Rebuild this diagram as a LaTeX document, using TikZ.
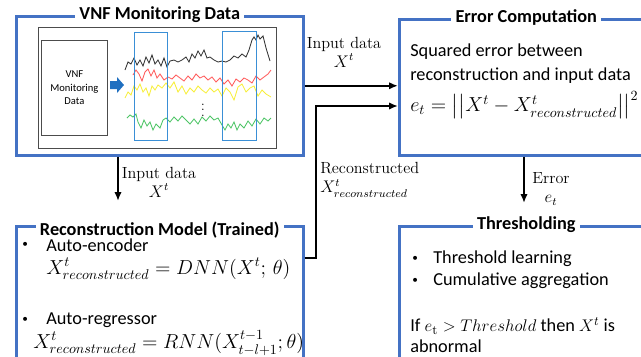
\documentclass[tikz,border=0pt]{standalone}
\usepackage{amsmath}
\usepackage{fontspec}
\setsansfont{Carlito}
\usepackage{tikz}
\usepackage{xcolor}
\usetikzlibrary{arrows.meta}

\definecolor{panelblue}{HTML}{4472C4}
\definecolor{winblue}{HTML}{3A8FD6}
\definecolor{arrowblue}{HTML}{1F6FC0}
\definecolor{sigred}{HTML}{FF5A5A}
\definecolor{sigyellow}{HTML}{F7EE3A}
\definecolor{siggreen}{HTML}{4CC465}

\newcommand{\smallbullet}{{\fontsize{8}{8}\selectfont\textbullet}}

\tikzset{
  panel/.style={draw=panelblue, line width=1.8pt, anchor=north west, inner sep=0pt},
  paneltitle/.style={fill=white, inner sep=3pt, font=\sffamily\bfseries\fontsize{13}{15}\selectfont},
  body/.style={anchor=west, inner sep=0pt, font=\sffamily\fontsize{13}{16}\selectfont},
  formula/.style={anchor=west, inner sep=0pt, font=\fontsize{13.8}{16}\selectfont},
  lab/.style={inner sep=0pt, font=\rmfamily\fontsize{11.5}{13.5}\selectfont},
  link/.style={line width=1.3pt, -{Latex[length=2.2mm,width=1.8mm]}},
  signal/.style={line width=0.6pt},
}

\begin{document}
\begin{tikzpicture}[x=0.25mm,y=-0.25mm]
\clip (0,0) rectangle (641,356);

% the four panels
\node[panel, minimum width=71.75mm, minimum height=34.75mm] (vnf) at (15,15) {};
\node[panel, minimum width=65.5mm, minimum height=34mm] (err) at (398,18) {};
\node[panel, minimum width=71.75mm, minimum height=38.75mm] (rec) at (15,225) {};
\node[panel, minimum width=65.5mm, minimum height=38.75mm] (thr) at (398,225) {};

\node[paneltitle] (vnftitle) at (vnf.north) {VNF Monitoring Data};
\node[paneltitle] (errtitle) at ([xshift=-1mm]err.north) {Error Computation};
\node[paneltitle] (rectitle) at ([yshift=-1.2mm]rec.north) {Reconstruction Model (Trained)};
\node[paneltitle] (thrtitle) at ([xshift=-1mm]thr.north) {Thresholding};

% monitoring data sketch
\draw[gray!60!black, line width=0.5pt] (38,27) rectangle (276,148);
\node[draw=gray!60!black, line width=0.5pt, anchor=north west, minimum width=16.5mm, minimum height=23.75mm,
  align=center, font=\sffamily\fontsize{7.5}{9.5}\selectfont] (src) at (41,40) {VNF\\Monitoring\\Data};
\fill[arrowblue] (110,81) -- (117,81) -- (117,77) -- (124,85) -- (117,93) -- (117,89) -- (110,89) -- cycle;

\draw[signal, black!80] plot coordinates {(125,70) (128,62) (131,64) (134,58) (137,65) (140,60) (143,66) (146,57)
  (149,63) (152,55) (155,64) (158,60) (161,66) (164,58) (167,67) (170,61) (174,60) (178,62) (182,60) (186,57)
  (189,62) (192,54) (195,58) (198,51) (201,56) (204,50) (207,58) (210,57) (214,60) (218,62) (222,61) (226,62)
  (230,60) (234,56) (238,58) (242,54) (246,57) (249,50) (252,40) (254,37) (256,40) (258,35) (260,39) (263,36)
  (266,48) (270,61)};
\draw[signal, sigred] plot coordinates {(133,75) (136,70) (139,74) (142,81) (145,72) (148,69) (151,76) (154,70)
  (157,78) (160,74) (164,80) (168,77) (172,79) (176,75) (180,78) (184,81) (188,76) (192,80) (196,74) (200,78)
  (204,76) (208,80) (212,77) (216,82) (220,78) (224,84) (228,80) (232,86) (236,79) (240,82) (244,78) (248,80)
  (252,83) (256,76) (260,80) (264,77) (268,74) (271,70)};
\draw[signal, sigyellow] plot coordinates {(125,98) (128,92) (131,95) (134,86) (137,90) (140,84) (143,92) (146,88)
  (149,96) (152,86) (155,90) (158,85) (162,88) (166,83) (170,88) (174,82) (178,92) (182,86) (186,94) (190,88)
  (194,92) (198,86) (202,90) (206,93) (210,88) (214,92) (218,89) (222,96) (226,88) (230,92) (234,100) (238,87)
  (242,84) (246,92) (250,88) (254,86) (258,96) (262,90) (266,94) (271,97)};
\draw[signal, siggreen] plot coordinates {(127,118) (130,115) (133,117) (136,114) (138,122) (141,128) (144,120)
  (147,126) (150,122) (153,130) (156,124) (160,128) (163,120) (166,118) (170,122) (174,117) (178,121) (182,116)
  (186,120) (190,124) (194,119) (198,124) (202,117) (206,121) (210,116) (214,120) (218,118) (222,125) (225,130)
  (228,124) (231,128) (234,122) (237,130) (240,124) (244,128) (248,121) (252,126) (256,119) (260,124) (264,118)
  (268,121) (271,118)};
\node[inner sep=0pt, font=\fontsize{9}{9}\selectfont] (dots) at (203,106) {$\vdots$};
\draw[winblue, line width=0.7pt] (134,32) rectangle (167,140);
\draw[winblue, line width=0.7pt] (222,31) rectangle (256,140);

% error computation
\node[body] (sq1) at (410,52) {Squared error between};
\node[body] (sq2) at (410,76) {reconstruction and input data};
\node[formula] (sq3) at (410,105) {$e_t = \bigl|\bigl|X^t - X^t_{reconstructed}\bigr|\bigr|^2$};

% reconstruction model
\node[body] (b1) at (22,245) {\smallbullet};
\node[body] (ae) at (46,245) {Auto-encoder};
\node[formula] (aeq) at (46,269) {$X^t_{reconstructed} = DNN(X^t;\,\theta)$};
\node[body] (b2) at (22,320) {\smallbullet};
\node[body] (ar) at (46,320) {Auto-regressor};
\node[formula] (areq) at (33,343) {$X^t_{reconstructed} = RNN(X^{t-1}_{t-l+1};\theta)$};

% thresholding
\node[body] (b3) at (412,259) {\smallbullet};
\node[body] (tl) at (433,259) {Threshold learning};
\node[body] (b4) at (412,281) {\smallbullet};
\node[body] (ca) at (433,281) {Cumulative aggregation};
\node[body] (rule) at (410,326) {If $e_{\mathrm{t}} > Threshold$ then $X^t$ is};
\node[body] (rule2) at (410,346) {abnormal};

% connectors
\coordinate (indown) at (118,201);
\coordinate (bend) at (316,106);
\coordinate (errdown) at (524,203);
\draw[link] (vnf.east) -- (vnf.east -| err.west);
\draw[link] (vnf.south -| indown) -- (indown);
\draw[link] (rec.east |- 0,258) -| (bend) -- (bend -| err.west);
\draw[link] (err.south -| errdown) -- (errdown);

\node[lab, align=center] (inlab) at (344,52) {Input data\\$X^t$};
\node[lab, align=center] (downlab) at (159,182) {Input data\\$X^t$};
\node[lab, align=left, anchor=west] (reclab) at (320,180) {Reconstructed\\$X^t_{reconstructed}$};
\node[lab, align=center] (errlab) at (551,189) {Error\\$e_t$};
\end{tikzpicture}
\end{document}
